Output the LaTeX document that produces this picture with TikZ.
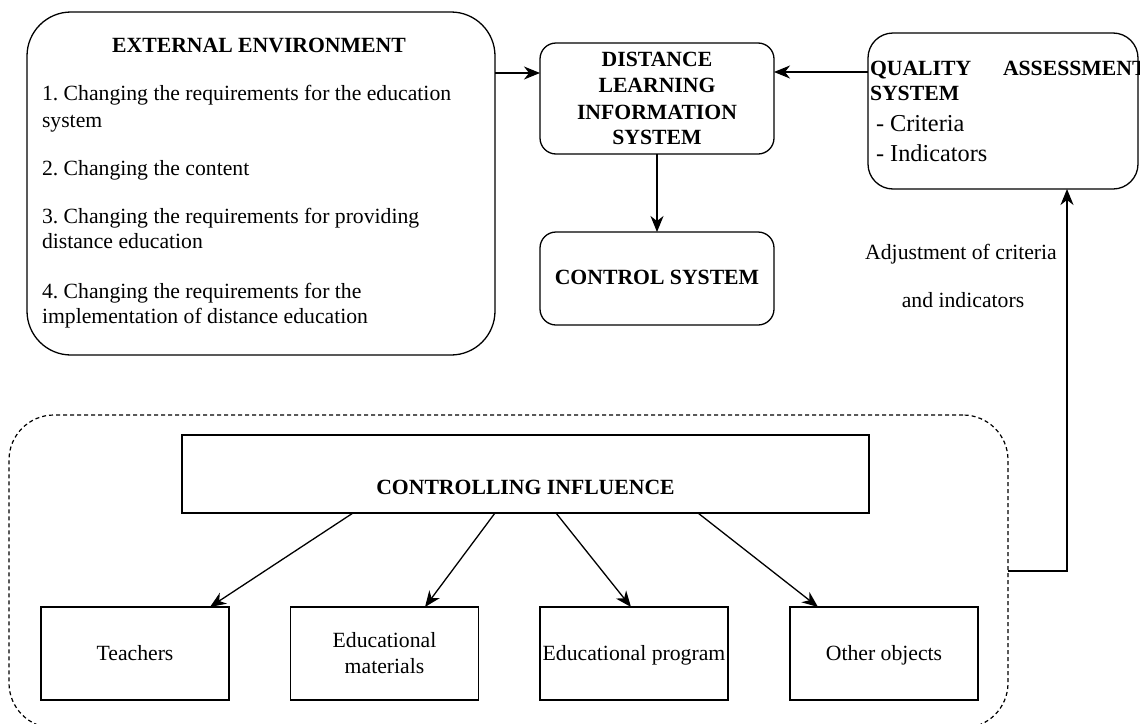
\documentclass[tikz,border=0pt]{standalone}
\usepackage{fontspec}
\setmainfont{Liberation Serif}
\usetikzlibrary{arrows.meta,calc}
\frenchspacing
\begin{document}
\begin{tikzpicture}[x=1pt,y=-1pt,
  every node/.style={inner sep=0pt,outer sep=0pt},
  txt/.style={font=\fontsize{21.7}{25}\selectfont},
  btxt/.style={font=\fontsize{21.7}{25}\selectfont\bfseries},
  big/.style={font=\fontsize{24.3}{28}\selectfont},
  rbox/.style={draw,line width=1.3pt,rounded corners=#1},
  sbox/.style={draw,line width=1.5pt},
  arr/.style={line width=1.3pt,-{Stealth[length=16pt,width=13pt,inset=5pt]}},
  ln/.style={line width=1.3pt}]
\useasboundingbox (0,0) rectangle (1140,723);
% boxes
\node[rbox=44pt,minimum width=468pt,minimum height=343pt] (ext) at (261,183.5) {};
\node[rbox=16pt,minimum width=234pt,minimum height=111pt] (dlis) at (657,98.5) {};
\node[rbox=16pt,minimum width=234pt,minimum height=93pt] (ctrl) at (657,278.5) {};
\node[rbox=25pt,minimum width=270pt,minimum height=156pt] (qas) at (1003,111) {};
\node[draw,line width=1.2pt,dash pattern=on 4pt off 3pt,rounded corners=45pt,minimum width=999pt,minimum height=313pt] (dash) at (508.5,571.5) {};
\node[sbox,minimum width=687pt,minimum height=78pt] (ci) at (525.5,474) {};
\node[sbox,minimum width=188pt,minimum height=93pt] (teach) at (135,653.5) {};
\node[sbox,minimum width=188pt,minimum height=93pt] (edmat) at (384.5,653.5) {};
\node[sbox,minimum width=188pt,minimum height=93pt] (edprog) at (634,653.5) {};
\node[sbox,minimum width=188pt,minimum height=93pt] (other) at (884,653.5) {};
% external environment text
\node[btxt,anchor=base] (e0) at (259,52) {EXTERNAL ENVIRONMENT};
\node[txt,anchor=base west] (e1) at (42,100) {1. Changing the requirements for the education};
\node[txt,anchor=base west] (e1b) at (42,127) {system};
\node[txt,anchor=base west] (e2) at (42,175) {2. Changing the content};
\node[txt,anchor=base west] (e3) at (42,223) {3. Changing the requirements for providing};
\node[txt,anchor=base west] (e3b) at (42,248) {distance education};
\node[txt,anchor=base west] (e4) at (42,298) {4. Changing the requirements for the};
\node[txt,anchor=base west] (e4b) at (42,323) {implementation of distance education};
% DLIS text
\node[btxt,anchor=base] (d1) at (657,66) {DISTANCE};
\node[btxt,anchor=base] (d2) at (657,92) {LEARNING};
\node[btxt,anchor=base] (d3) at (657,119) {INFORMATION};
\node[btxt,anchor=base] (d4) at (657,144) {SYSTEM};
% control
\node[btxt,anchor=base] (c1) at (657,284) {CONTROL SYSTEM};
% QAS text
\node[btxt,anchor=base west] (q1) at (870,75) {QUALITY};
\node[btxt,anchor=base west] (q2) at (1003,75) {ASSESSMENT};
\node[btxt,anchor=base west] (q3) at (870,100) {SYSTEM};
\node[big,anchor=base west] (q4) at (876,131) {- Criteria};
\node[big,anchor=base west] (q5) at (876,161) {- Indicators};
% adjustment label
\node[txt,anchor=base] (a1) at (961,259) {Adjustment of criteria};
\node[txt,anchor=base] (a2) at (963,307) {and indicators};
% bottom texts
\node[btxt,anchor=base] (ci1) at (525.5,494) {CONTROLLING INFLUENCE};
\node[txt,anchor=base] (b1) at (135,660) {Teachers};
\node[txt,anchor=base] (b2a) at (384.5,647) {Educational};
\node[txt,anchor=base] (b2b) at (384.5,673) {materials};
\node[txt,anchor=base] (b3) at (634,660) {Educational program};
\node[txt,anchor=base] (b4) at (884,660) {Other objects};
% connectors
\draw[arr] (ext.east |- 0,73) -- (dlis.west |- 0,73);
\draw[arr] (qas.west |- 0,72) -- (dlis.east |- 0,72);
\draw[arr] (dlis.south) -- (ctrl.north);
\coordinate (bend) at (1067,571);
\draw[arr] (dash.east |- bend) -- (bend) -- (bend |- qas.south);
\draw[arr] (ci.south -| 353,0) -- (teach.north -| 210,0);
\draw[arr] (ci.south -| 495,0) -- (edmat.north -| 425,0);
\draw[arr] (ci.south -| 556,0) -- (edprog.north -| 631,0);
\draw[arr] (ci.south -| 698,0) -- (other.north -| 818,0);
\end{tikzpicture}
\end{document}
